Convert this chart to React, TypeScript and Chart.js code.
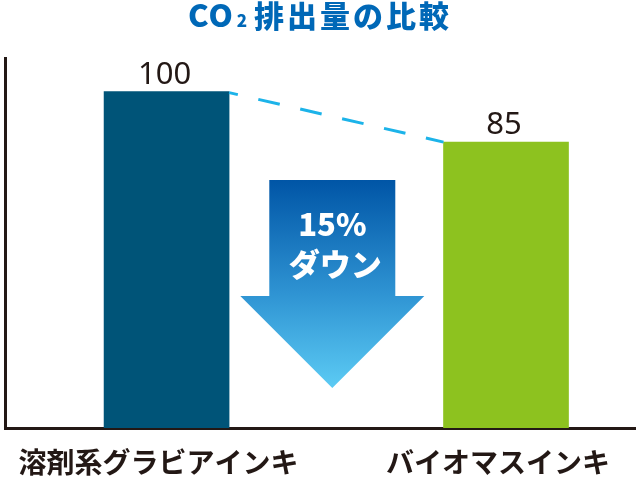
import { useEffect, useRef } from "react";
import { Chart, registerables } from "chart.js";

Chart.register(...registerables);

// data
const categories = ["溶剤系グラビアインキ", "バイオマスインキ"];
const co2Values = [100, 85];
const barColors = ["#005478", "#8dc21f"];
const titleParts = ["CO", "2", " 排出量の比較"];
const reductionLines = ["15%", "ダウン"];

const INK = "#231815";
const CJK = "'Noto Sans CJK JP', 'Noto Sans', sans-serif";

const titlePlugin = {
  id: "co2Title",
  afterDraw(chart) {
    const ctx = chart.ctx;
    ctx.save();
    ctx.fillStyle = "#0068b7";
    ctx.textBaseline = "alphabetic";
    const fonts = [`900 31px ${CJK}`, `900 17px ${CJK}`, `900 30px ${CJK}`];
    const spacing = ["1px", "0px", "3px"];
    const widths = titleParts.map((t, i) => {
      ctx.font = fonts[i];
      ctx.letterSpacing = spacing[i];
      return ctx.measureText(t).width;
    });
    const total = widths.reduce((a, b) => a + b, 0);
    let x = chart.width / 2 - total / 2;
    titleParts.forEach((t, i) => {
      ctx.font = fonts[i];
      ctx.letterSpacing = spacing[i];
      ctx.textAlign = "left";
      ctx.fillText(t, x + (i === 1 ? 3 : 0), 27);
      x += widths[i];
    });
    ctx.restore();
  },
};

const decorPlugin = {
  id: "decor",
  afterDatasetsDraw(chart) {
    const ctx = chart.ctx;
    const bars = chart.getDatasetMeta(0).data;
    if (bars.length < 2) return;
    const [a, b] = bars;
    const { chartArea } = chart;

    // dashed connector between bar tops
    ctx.save();
    ctx.strokeStyle = "#1cb3e9";
    ctx.lineWidth = 3;
    ctx.setLineDash([22, 21]);
    ctx.lineDashOffset = 13;
    ctx.beginPath();
    ctx.moveTo(a.x + a.width / 2, a.y + 1);
    ctx.lineTo(b.x - b.width / 2, b.y);
    ctx.stroke();
    ctx.restore();

    // value labels
    ctx.save();
    ctx.fillStyle = INK;
    ctx.font = "31px 'Noto Sans', sans-serif";
    ctx.textAlign = "center";
    ctx.textBaseline = "alphabetic";
    bars.forEach((el, i) => {
      ctx.fillText(String(co2Values[i]), el.x - 2, el.y - 8);
    });
    ctx.restore();

    // down arrow
    const cx = (a.x + a.width / 2 + b.x - b.width / 2) / 2 - 4;
    const top = chartArea.top + 122;
    const neck = chartArea.top + 238;
    const tip = chartArea.top + 330;
    const shaft = 63;
    const head = 92;
    ctx.save();
    const grad = ctx.createLinearGradient(0, top, 0, tip);
    grad.addColorStop(0, "#0055a6");
    grad.addColorStop(0.55, "#2f94d3");
    grad.addColorStop(1, "#5ccbf4");
    ctx.fillStyle = grad;
    ctx.beginPath();
    ctx.moveTo(cx - shaft, top);
    ctx.lineTo(cx + shaft, top);
    ctx.lineTo(cx + shaft, neck);
    ctx.lineTo(cx + head, neck);
    ctx.lineTo(cx, tip);
    ctx.lineTo(cx - head, neck);
    ctx.lineTo(cx - shaft, neck);
    ctx.closePath();
    ctx.fill();

    ctx.fillStyle = "#ffffff";
    ctx.font = `900 31px ${CJK}`;
    ctx.textAlign = "center";
    ctx.textBaseline = "middle";
    ctx.fillText(reductionLines[0], cx, top + 44);
    ctx.fillText(reductionLines[1], cx + 3, top + 84);
    ctx.restore();
  },
};

const Co2Chart = () => {
  const canvasRef = useRef<HTMLCanvasElement | null>(null);

  useEffect(() => {
    if (!canvasRef.current) return;
    const chart = new Chart(canvasRef.current, {
      type: "bar",
      data: {
        datasets: [
          {
            data: categories.map((_, i) => ({ x: i, y: co2Values[i] })),
            backgroundColor: barColors,
            barThickness: 125,
            borderWidth: 0,
          },
        ],
      },
      options: {
        animation: false,
        responsive: true,
        maintainAspectRatio: false,
        layout: { padding: { top: 58, left: 5, right: 5, bottom: 0 } },
        plugins: {
          legend: { display: false },
          title: { display: false },
          tooltip: { enabled: false },
        },
        scales: {
          x: {
            type: "linear",
            offset: false,
            min: -0.476,
            max: 1.38,
            grid: { display: false, drawTicks: false },
            border: { display: true, color: INK, width: 3 },
            ticks: {
              stepSize: 1,
              includeBounds: false,
              autoSkip: false,
              maxRotation: 0,
              padding: 18,
              labelOffset: -8,
              color: INK,
              font: { family: CJK, size: 28, weight: "bold" },
              callback: (v) => (Number.isInteger(v) ? categories[v] ?? "" : ""),
            },
            afterFit: (s) => {
              s.height = 52;
              s.paddingLeft = 0;
              s.paddingRight = 0;
            },
          },
          y: {
            min: 0,
            max: 110,
            grid: { display: false, drawTicks: false },
            border: { display: true, color: INK, width: 3 },
            ticks: { display: false },
            afterFit: (s) => {
              s.width = 0;
            },
          },
        },
      },
      plugins: [titlePlugin, decorPlugin],
    });
    return () => chart.destroy();
  }, []);

  return (
    <div style={{ position: "fixed", left: 0, top: 0, width: 640, height: 480, background: "#fff" }}>
      <canvas ref={canvasRef} />
    </div>
  );
};

export default function App() {
  return <Co2Chart />;
}
